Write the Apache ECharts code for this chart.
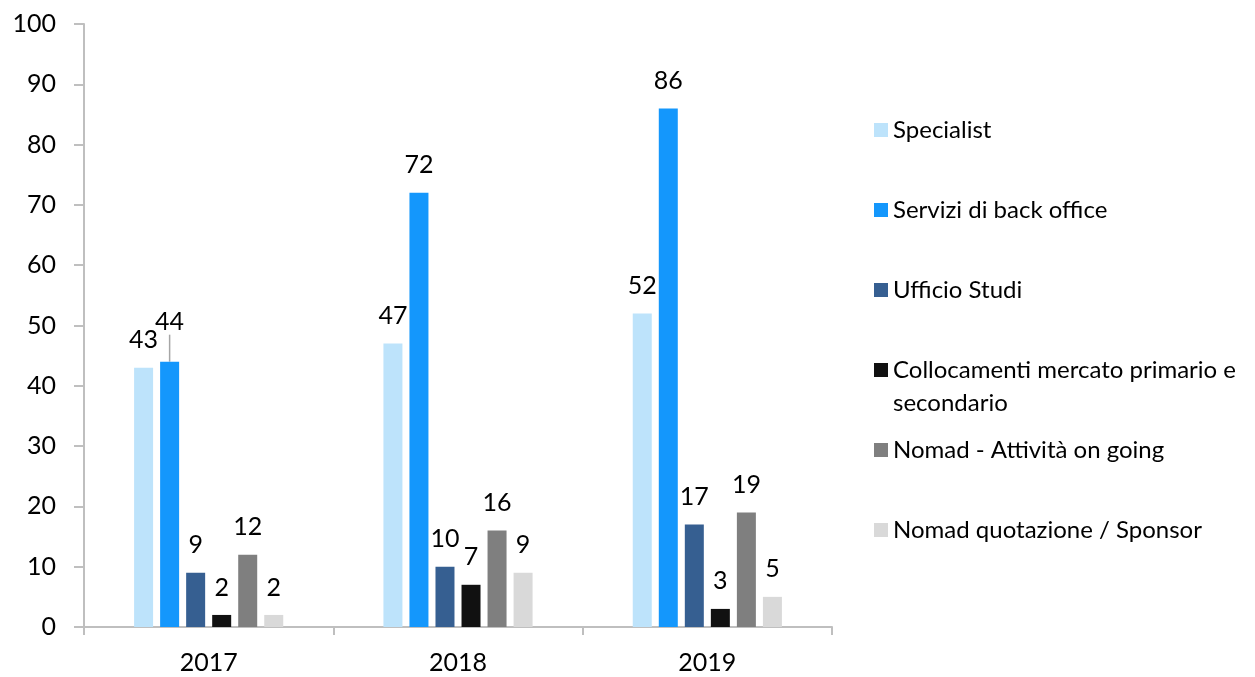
<!DOCTYPE html>
<html>
<head>
<meta charset="utf-8">
<script src="https://cdn.jsdelivr.net/npm/echarts@6/dist/echarts.min.js"></script>
<style>
  html, body { margin: 0; padding: 0; background: #ffffff; }
  #chart { width: 1255px; height: 677px; }
</style>
</head>
<body>
<div id="chart"></div>
<script>
// Years on the category axis
const years = ['2017', '2018', '2019'];

// One array per activity, values per year
const specialist     = [43, 47, 52];
const backOffice     = [44, 72, 86];
const ufficioStudi   = [9, 10, 17];
const collocamenti   = [2, 7, 3];
const nomadOnGoing   = [12, 16, 19];
const nomadSponsor   = [2, 9, 5];

const seriesNames = [
  'Specialist',
  'Servizi di back office',
  'Ufficio Studi',
  'Collocamenti mercato primario e secondario',
  'Nomad - Attività on going',
  'Nomad quotazione / Sponsor'
];
const seriesValues = [specialist, backOffice, ufficioStudi, collocamenti, nomadOnGoing, nomadSponsor];
const seriesColors = ['#BDE3FB', '#1497FC', '#365F91', '#111111', '#7F7F7F', '#D9D9D9'];

const FONT = 'Lato, "Noto Sans", sans-serif';
const FS = 24;
const NUM_FS = 25;

const series = seriesNames.map((name, i) => ({
  name: name,
  type: 'bar',
  barWidth: 19,
  barGap: '37%',
  barCategoryGap: '40%',
  itemStyle: { color: seriesColors[i] },
  label: {
    show: true,
    position: 'top',
    distance: 15,
    color: '#000000',
    fontFamily: FONT,
    fontSize: NUM_FS
  },
  labelLine: { show: false, lineStyle: { color: '#A6A6A6', width: 1.5 } },
  labelLayout: function (p) {
    // lift the 2017 back-office label clear of its neighbour
    if (p.seriesIndex === 1 && p.dataIndex === 0) return { dy: -12 };
    return {};
  },
  data: seriesValues[i].map((v, j) =>
    (i === 1 && j === 0) ? { value: v, labelLine: { show: true } } : v)
}));

// one legend block per series so each row sits on its own baseline
const legendCenters = [130, 210, 290, 370, 450, 530];
const legends = seriesNames.map((name, i) => {
  const multi = i === 3;
  return {
    data: [name],
    orient: 'vertical',
    left: 874,
    top: multi ? legendCenters[i] - 49.5 : legendCenters[i] - 12,
    padding: 0,
    icon: 'rect',
    itemWidth: 14,
    itemHeight: 14,
    selectedMode: false,
    formatter: multi ? '\nCollocamenti mercato primario e\nsecondario' : '{name}',
    textStyle: {
      fontFamily: FONT,
      fontSize: FS,
      color: '#000000',
      lineHeight: multi ? 33 : 24
    }
  };
});

const chart = echarts.init(document.getElementById('chart'), null, { renderer: 'canvas' });
chart.setOption({
  animation: false,
  backgroundColor: '#ffffff',
  grid: { left: 84, right: 423, top: 24, bottom: 50, containLabel: false },
  legend: legends,
  xAxis: {
    type: 'category',
    data: years,
    axisLine: { show: true, lineStyle: { color: '#BFBFBF', width: 2 } },
    axisTick: { show: true, alignWithLabel: false, length: 8, lineStyle: { color: '#BFBFBF', width: 2 } },
    axisLabel: { color: '#000000', fontFamily: FONT, fontSize: NUM_FS, margin: 23 }
  },
  yAxis: {
    type: 'value',
    min: 0,
    max: 100,
    interval: 10,
    axisLine: { show: true, lineStyle: { color: '#BFBFBF', width: 2 } },
    axisTick: { show: true, length: 10, lineStyle: { color: '#BFBFBF', width: 2 } },
    splitLine: { show: false },
    axisLabel: { color: '#000000', fontFamily: FONT, fontSize: NUM_FS, margin: 28 }
  },
  series: series
});
</script>
</body>
</html>
